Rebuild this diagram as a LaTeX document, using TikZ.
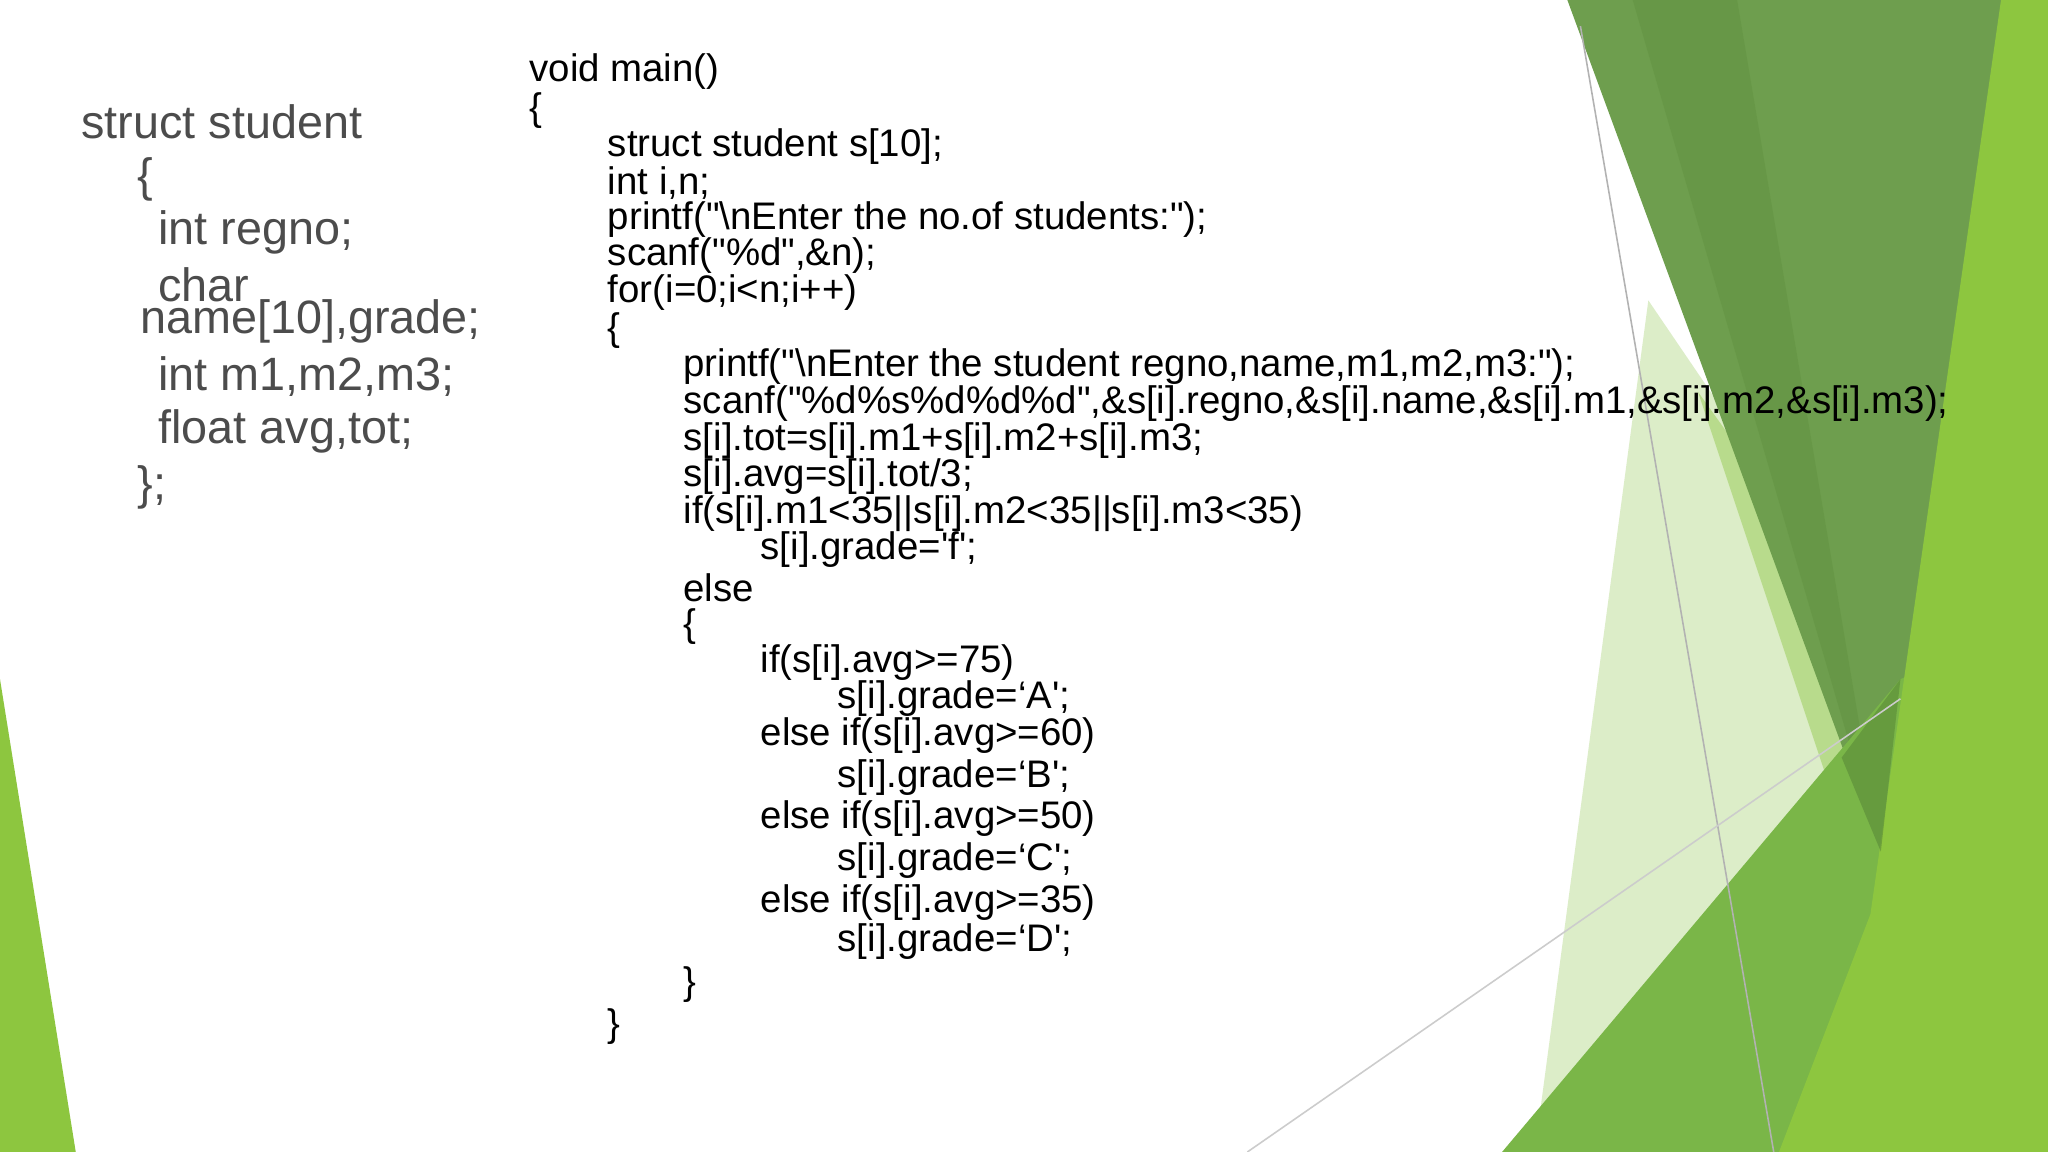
\documentclass[tikz,border=0pt]{standalone}
\usepackage{fontspec}
\newfontfamily\cf{Liberation Sans}
\definecolor{gA}{HTML}{6E9E4E}
\definecolor{gB}{HTML}{8DC63F}
\definecolor{gC}{HTML}{DCEDC8}
\definecolor{gD}{HTML}{7AB648}
\definecolor{gE}{HTML}{5A8A38}
\definecolor{gF}{HTML}{B8DB8C}
\tikzset{code/.style={anchor=west,inner sep=0pt,font=\cf\fontsize{14.7}{16}\selectfont},
 sline/.style={anchor=west,inner sep=0pt,font=\cf\fontsize{17.9}{19}\selectfont,text=black!70}}
\begin{document}
\begin{tikzpicture}[x=0.5pt,y=-0.5pt]
\useasboundingbox (0,0) rectangle (1568,882);
\fill[white] (0,0) rectangle (1568,882);
% decorations
\fill[gB] (0,520) -- (58,882) -- (0,882) -- cycle;
\fill[gC] (1262,230) -- (1500,580) -- (1175,882) -- cycle;
\fill[gF] (1300,300) -- (1500,580) -- (1400,600) -- cycle;
\fill[gA] (1200,0) -- (1535,0) -- (1440,652) -- cycle;
\fill[gE,opacity=0.3] (1250,0) -- (1330,0) -- (1440,652) -- cycle;
\fill[gD] (1150,882) -- (1455,520) -- (1568,470) -- (1568,882) -- cycle;
\fill[gB] (1532,0) -- (1568,0) -- (1568,882) -- (1362,882) -- (1432,700) -- cycle;
\fill[gE,opacity=0.6] (1410,580) -- (1455,520) -- (1440,652) -- cycle;
\coordinate (l1a) at (1210,20); \coordinate (l1b) at (1358,882);
\coordinate (l2a) at (955,882); \coordinate (l2b) at (1455,535);
\draw[gray!60,line width=0.6pt] (l1a) -- (l1b);
\draw[gray!40,line width=0.6pt] (l2a) -- (l2b);
% struct
\node[sline] (s1) at (62,93) {struct student};
\node[sline] (s2) at (105,137) {\{};
\node[sline] (s3) at (121,178) {int regno;};
\node[sline] (s4) at (121,218) {char};
\node[sline] (s5) at (107,246) {name[10],grade;};
\node[sline] (s6) at (121,288) {int m1,m2,m3;};
\node[sline] (s7) at (121,330) {float avg,tot;};
\node[sline] (s8) at (105,373) {\};};
% code
\node[code] (c1) at (405,55) {void main()};
\node[code] (c2) at (405,85) {\{};
\node[code] (c3) at (465,112) {struct student s[10];};
\node[code] (c4) at (465,140) {int i,n;};
\node[code] (c5) at (465,168) {printf("\textbackslash nEnter the no.of students:");};
\node[code] (c6) at (465,196) {scanf("\%d",\&n);};
\node[code] (c7) at (465,224) {for(i=0;i<n;i++)};
\node[code] (c8) at (465,253) {\{};
\node[code] (c9) at (523,281) {printf("\textbackslash nEnter the student regno,name,m1,m2,m3:");};
\node[code] (c10) at (523,309) {scanf("\%d\%s\%d\%d\%d",\&s[i].regno,\&s[i].name,\&s[i].m1,\&s[i].m2,\&s[i].m3);};
\node[code] (c11) at (523,337) {s[i].tot=s[i].m1+s[i].m2+s[i].m3;};
\node[code] (c12) at (523,365) {s[i].avg=s[i].tot/3;};
\node[code] (c13) at (523,393) {if(s[i].m1<35||s[i].m2<35||s[i].m3<35)};
\node[code] (c14) at (582,421) {s[i].grade='f';};
\node[code] (c15) at (523,450) {else};
\node[code] (c16) at (523,480) {\{};
\node[code] (c17) at (582,507) {if(s[i].avg>=75)};
\node[code] (c18) at (641,535) {s[i].grade=‘A';};
\node[code] (c19) at (582,563) {else if(s[i].avg>=60)};
\node[code] (c20) at (641,595) {s[i].grade=‘B';};
\node[code] (c21) at (582,627) {else if(s[i].avg>=50)};
\node[code] (c22) at (641,659) {s[i].grade=‘C';};
\node[code] (c23) at (582,691) {else if(s[i].avg>=35)};
\node[code] (c24) at (641,721) {s[i].grade=‘D';};
\node[code] (c25) at (523,754) {\}};
\node[code] (c26) at (465,786) {\}};
\end{tikzpicture}
\end{document}
